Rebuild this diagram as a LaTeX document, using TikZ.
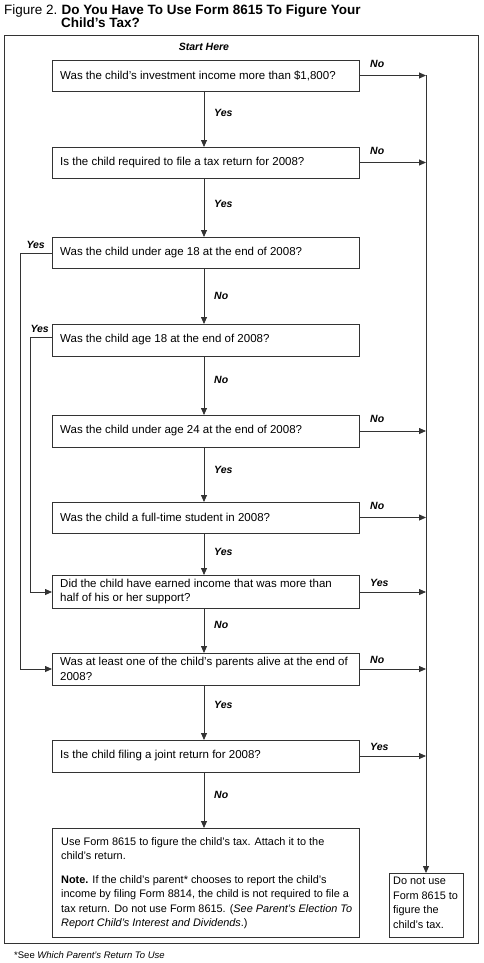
\documentclass[tikz,border=0pt]{standalone}
\usepackage{fontspec}
\setmainfont{Liberation Sans}
\usetikzlibrary{arrows.meta}
\begin{document}
\begin{tikzpicture}[x=1pt,y=-1pt,
  line/.style={draw=black!80,line width=0.8pt},
  arr/.style={line,-{Triangle[length=7pt,width=6pt]}},
  qbox/.style={line,fill=white},
  qtext/.style={anchor=west,inner sep=0pt,align=left,font=\fontsize{11.5}{14.5}\selectfont},
  ntext/.style={anchor=north west,inner sep=0pt,align=left,font=\fontsize{10.9}{14.5}\selectfont},
  lab/.style={inner sep=0pt,font=\fontsize{10.5}{12}\selectfont\bfseries\itshape},
]
\useasboundingbox (0,0) rectangle (484,963);
% title
\node[anchor=base west,inner sep=0pt,font=\fontsize{13.5}{15}\selectfont] (fig) at (4,15) {Figure 2.};
\node[anchor=base west,inner sep=0pt,font=\fontsize{13.5}{15}\selectfont\bfseries,align=left] (title) at (fig.base east) {\ Do You Have To Use Form 8615 To Figure Your};
\node[anchor=base west,inner sep=0pt,font=\fontsize{13.5}{15}\selectfont\bfseries] (title2) at (61,28) {Child’s Tax?};
% frame
\draw[line] (4,35) rectangle (478,943);
\node[lab] (start) at (204,47) {Start Here};
% boxes
\draw[qbox] (52,60) rectangle (359,91);
\coordinate (b1w) at (52,75.5); \coordinate (b1e) at (359,75.5); \coordinate (b1s) at (204,91);
\node[qtext] (t1) at (60,75.5) {Was the child’s investment income more than \$1,800?};
\draw[qbox] (52,147) rectangle (359,178);
\coordinate (b2n) at (204,147); \coordinate (b2e) at (359,162.5); \coordinate (b2s) at (204,178);
\node[qtext] (t2) at (60,162.5) {Is the child required to file a tax return for 2008?};
\draw[qbox] (52,237) rectangle (359,268);
\coordinate (b3n) at (204,237); \coordinate (b3w) at (52,253); \coordinate (b3s) at (204,268);
\node[qtext] (t3) at (60,252.5) {Was the child under age 18 at the end of 2008?};
\draw[qbox] (52,324) rectangle (359,356);
\coordinate (b4n) at (204,324); \coordinate (b4w) at (52,337); \coordinate (b4s) at (204,356);
\node[qtext] (t4) at (60,340) {Was the child age 18 at the end of 2008?};
\draw[qbox] (52,415) rectangle (359,447);
\coordinate (b5n) at (204,415); \coordinate (b5e) at (359,431); \coordinate (b5s) at (204,447);
\node[qtext] (t5) at (60,431) {Was the child under age 24 at the end of 2008?};
\draw[qbox] (52,502) rectangle (359,533);
\coordinate (b6n) at (204,502); \coordinate (b6e) at (359,517.5); \coordinate (b6s) at (204,533);
\node[qtext] (t6) at (60,517.5) {Was the child a full-time student in 2008?};
\draw[qbox] (52,575) rectangle (359,608);
\coordinate (b7n) at (204,575); \coordinate (b7w) at (52,592); \coordinate (b7e) at (359,592); \coordinate (b7s) at (204,608);
\node[qtext] (t7) at (60,591.5) {Did the child have earned income that was more than\\half of his or her support?};
\draw[qbox] (52,653) rectangle (359,685);
\coordinate (b8n) at (204,653); \coordinate (b8w) at (52,669); \coordinate (b8e) at (359,669); \coordinate (b8s) at (204,685);
\node[qtext] (t8) at (60,669) {Was at least one of the child’s parents alive at the end of\\2008?};
\draw[qbox] (52,740) rectangle (359,772);
\coordinate (b9n) at (204,740); \coordinate (b9e) at (359,756); \coordinate (b9s) at (204,772);
\node[qtext] (t9) at (60,756) {Is the child filing a joint return for 2008?};
\draw[qbox] (52,828) rectangle (359,937);
\coordinate (b10n) at (204,828);
\node[ntext] (t10) at (61,837) {Use Form 8615 to figure the child’s tax. Attach it to the\\child’s return.\\[9pt]
\textbf{Note.} If the child’s parent* chooses to report the child’s\\income by filing Form 8814, the child is not required to file a\\tax return. Do not use Form 8615. (\textit{See Parent’s Election To}\\\textit{Report Child’s Interest and Dividends}.)};
\draw[qbox] (389,873) rectangle (463,937);
\coordinate (b11n) at (426,873);
\node[ntext] (t11) at (393,877) {Do not use\\Form 8615 to\\figure the\\child’s tax.};
% right line
\coordinate (r1) at (426,75.5);
\coordinate (r2) at (426,162.5);
\coordinate (r5) at (426,431);
\coordinate (r6) at (426,517.5);
\coordinate (r7) at (426,592);
\coordinate (r8) at (426,669);
\coordinate (r9) at (426,756);
\draw[arr] (b1e) -- (r1);
\draw[arr] (r1) -- (b11n);
\draw[arr] (b2e) -- (r2);
\draw[arr] (b5e) -- (r5);
\draw[arr] (b6e) -- (r6);
\draw[arr] (b7e) -- (r7);
\draw[arr] (b8e) -- (r8);
\draw[arr] (b9e) -- (r9);
% down arrows
\draw[arr] (b1s) -- (b2n);
\draw[arr] (b2s) -- (b3n);
\draw[arr] (b3s) -- (b4n);
\draw[arr] (b4s) -- (b5n);
\draw[arr] (b5s) -- (b6n);
\draw[arr] (b6s) -- (b7n);
\draw[arr] (b7s) -- (b8n);
\draw[arr] (b8s) -- (b9n);
\draw[arr] (b9s) -- (b10n);
% left loops
\draw[arr] (b3w) -- (20,253) -- (20,669) -- (b8w);
\draw[arr] (b4w) -- (30,337) -- (30,592) -- (b7w);
% labels
\node[lab,anchor=west] (n1) at (370,64) {No};
\node[lab,anchor=west] (n2) at (370,151) {No};
\node[lab,anchor=west] (n5) at (370,419) {No};
\node[lab,anchor=west] (n6) at (370,506) {No};
\node[lab,anchor=west] (y7) at (370,583) {Yes};
\node[lab,anchor=west] (n8) at (370,660) {No};
\node[lab,anchor=west] (y9) at (370,747) {Yes};
\node[lab,anchor=west] (y1) at (214,113) {Yes};
\node[lab,anchor=west] (y2) at (214,204) {Yes};
\node[lab,anchor=west] (n3) at (214,296) {No};
\node[lab,anchor=west] (n4) at (214,380) {No};
\node[lab,anchor=west] (y5) at (214,470) {Yes};
\node[lab,anchor=west] (y6) at (214,552) {Yes};
\node[lab,anchor=west] (n7) at (214,625) {No};
\node[lab,anchor=west] (y8) at (214,705) {Yes};
\node[lab,anchor=west] (n9) at (214,795) {No};
\node[lab,anchor=east] (yl3) at (45,245) {Yes};
\node[lab,anchor=east] (yl4) at (49,329) {Yes};
% footnote
\node[anchor=west,inner sep=0pt,font=\fontsize{9.5}{11}\selectfont] (foot) at (14,955) {*See \textit{Which Parent’s Return To Use}};
\end{tikzpicture}
\end{document}
